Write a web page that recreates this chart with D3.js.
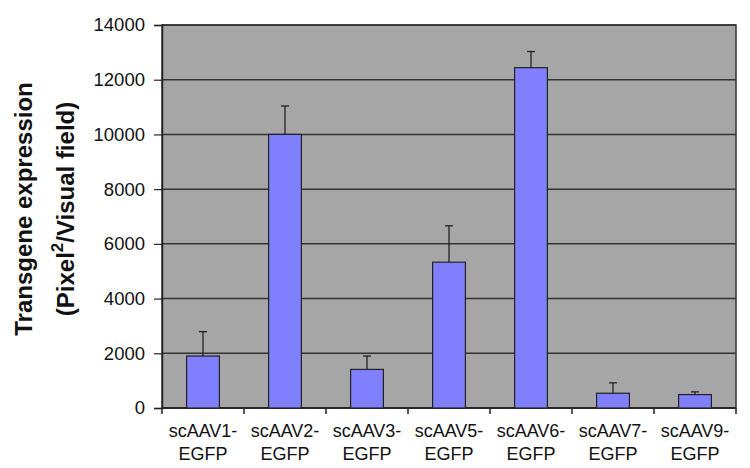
<!DOCTYPE html>
<html>
<head>
<meta charset="utf-8">
<script src="https://cdn.jsdelivr.net/npm/d3@7"></script>
<style>
	body { margin: 0; background: white; }
	text { font-family: Arial, "Liberation Sans", sans-serif; fill: #111; }
</style>
</head>
<body>
<div id="chart"></div>
<script>
const categories = ['scAAV1-', 'scAAV2-', 'scAAV3-', 'scAAV5-', 'scAAV6-', 'scAAV7-', 'scAAV9-'];
const values = [1900, 10000, 1410, 5330, 12440, 540, 490];
const errors = [890, 1040, 490, 1330, 590, 380, 100];
const yTicks = [0, 2000, 4000, 6000, 8000, 10000, 12000, 14000];

const width = 750;
const height = 468;
const margin = { top: 25, right: 14, bottom: 60, left: 162 };

const svg = d3
	.select('#chart')
	.append('svg')
	.attr('width', width)
	.attr('height', height);

const x = d3
	.scaleBand()
	.domain(categories)
	.range([margin.left, width - margin.right])
	.paddingInner(0.6)
	.paddingOuter(0.3);

const y = d3
	.scaleLinear()
	.domain([0, 14000])
	.range([height - margin.bottom, margin.top]);

// plot area
svg.append('rect')
	.attr('x', margin.left)
	.attr('y', margin.top)
	.attr('width', width - margin.left - margin.right)
	.attr('height', height - margin.top - margin.bottom)
	.attr('fill', '#a6a6a6')
	.attr('stroke', '#333')
	.attr('stroke-width', 1.5);

// gridlines
svg.append('g')
	.selectAll('line')
	.data(yTicks)
	.enter()
	.append('line')
	.attr('x1', margin.left)
	.attr('x2', width - margin.right)
	.attr('y1', (d) => y(d))
	.attr('y2', (d) => y(d))
	.attr('stroke', '#333')
	.attr('stroke-width', 1.5);

// y axis
const yAxis = svg
	.append('g')
	.attr('transform', `translate(${margin.left},0)`)
	.call(d3.axisLeft(y).tickValues(yTicks).tickFormat(d3.format('d')).tickSize(8).tickPadding(9));
yAxis.select('.domain').attr('stroke', '#222').attr('stroke-width', 1.5);
yAxis.selectAll('.tick line').attr('stroke', '#222').attr('stroke-width', 1.2);
yAxis.selectAll('.tick text')
	.style('font-size', '18.5px')
	.style('font-family', 'Arial, "Liberation Sans", sans-serif')
	.attr('fill', '#111');

// x axis line + ticks at band boundaries
const boundaries = d3.range(categories.length + 1).map((i) => margin.left + i * (width - margin.left - margin.right) / categories.length);
svg.append('line')
	.attr('x1', margin.left)
	.attr('x2', width - margin.right)
	.attr('y1', y(0))
	.attr('y2', y(0))
	.attr('stroke', '#222')
	.attr('stroke-width', 1.5);
svg.append('g')
	.selectAll('line')
	.data(boundaries)
	.enter()
	.append('line')
	.attr('x1', (d) => d)
	.attr('x2', (d) => d)
	.attr('y1', y(0))
	.attr('y2', y(0) + 6)
	.attr('stroke', '#222')
	.attr('stroke-width', 1.5);

// bars
svg.append('g')
	.selectAll('rect')
	.data(categories)
	.enter()
	.append('rect')
	.attr('x', (d) => x(d))
	.attr('y', (d, i) => y(values[i]))
	.attr('width', x.bandwidth())
	.attr('height', (d, i) => y(0) - y(values[i]))
	.attr('fill', '#8080ff')
	.attr('stroke', '#222')
	.attr('stroke-width', 1.2);

// error bars
const err = svg.append('g').attr('stroke', '#222').attr('stroke-width', 1.3);
categories.forEach((c, i) => {
	const cx = x(c) + x.bandwidth() / 2;
	err.append('line')
		.attr('x1', cx).attr('x2', cx)
		.attr('y1', y(values[i]))
		.attr('y2', y(values[i] + errors[i]));
	err.append('line')
		.attr('x1', cx - 4).attr('x2', cx + 4)
		.attr('y1', y(values[i] + errors[i]))
		.attr('y2', y(values[i] + errors[i]));
});

// x labels
const xl = svg.append('g');
categories.forEach((c) => {
	const cx = x(c) + x.bandwidth() / 2;
	const t = xl.append('text')
		.attr('text-anchor', 'middle')
		.style('font-size', '18px');
	t.append('tspan').attr('x', cx).attr('y', 437).text(c);
	t.append('tspan').attr('x', cx).attr('y', 460).text('EGFP');
});

// y title
const title = svg.append('text')
	.attr('transform', 'translate(0,209) rotate(-90)')
	.attr('text-anchor', 'middle')
	.style('font-size', '24px')
	.style('font-weight', 'bold');
title.append('tspan').attr('x', 0).attr('y', 32).text('Transgene expression');
const l2 = title.append('tspan').attr('x', 0).attr('y', 73.5);
l2.append('tspan').text('(Pixel');
l2.append('tspan').attr('dy', -11).style('font-size', '17px').text('2');
l2.append('tspan').attr('dy', 11).text('/Visual field)');
</script>
</body>
</html>
